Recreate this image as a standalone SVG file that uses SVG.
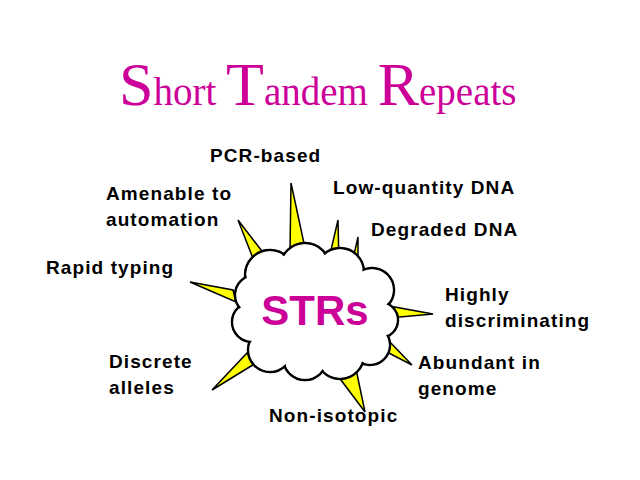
<svg xmlns="http://www.w3.org/2000/svg" width="640" height="480" viewBox="0 0 640 480">
<style>
.l{font-family:"Liberation Sans",Arial,sans-serif;font-weight:bold;font-size:19px;letter-spacing:1.1px;fill:#000}
.t{font-family:"Liberation Serif","Times New Roman",serif;fill:#cc0099}
.sp{fill:#ffff00;stroke:#000;stroke-width:1.5;stroke-linejoin:miter}
.c1{fill:#fff;stroke:#000;stroke-width:2.5}
.c2{fill:#fff}
</style>
<rect width="640" height="480" fill="#fff"/>
<text class="t" x="119" y="105"><tspan font-size="62">S</tspan><tspan font-size="39">hort </tspan><tspan font-size="62">T</tspan><tspan font-size="39">andem </tspan><tspan font-size="62">R</tspan><tspan font-size="39">epeats</tspan></text>
<g id="connectors">
<polygon class="sp" points="291,183 290,252 305,248"/>
<polygon class="sp" points="338,220 328,263 339,266"/>
<polygon class="sp" points="358,237 351,268 358,268"/>
<polygon class="sp" points="238,220 256,266 268,259"/>
<polygon class="sp" points="190,282 233,290 236,302"/>
<polygon class="sp" points="433,314 389,306 389,318"/>
<polygon class="sp" points="412,365 386,338 379,348"/>
<polygon class="sp" points="365,412 338,376 356,369"/>
<polygon class="sp" points="212,390 248,352 256,363"/>
</g>
<g id="cloud">
<g>
<circle class="c1" cx="270" cy="275" r="25"/><circle class="c1" cx="305" cy="268" r="25"/><circle class="c1" cx="340" cy="272" r="24"/><circle class="c1" cx="372" cy="290" r="22"/><circle class="c1" cx="380" cy="320" r="18"/><circle class="c1" cx="370" cy="345" r="20"/><circle class="c1" cx="340" cy="355" r="24"/><circle class="c1" cx="305" cy="358" r="22"/><circle class="c1" cx="270" cy="350" r="22"/><circle class="c1" cx="252" cy="322" r="20"/><circle class="c1" cx="255" cy="295" r="20"/>
</g>
<g>
<circle class="c2" cx="270" cy="275" r="23.5"/><circle class="c2" cx="305" cy="268" r="23.5"/><circle class="c2" cx="340" cy="272" r="22.5"/><circle class="c2" cx="372" cy="290" r="20.5"/><circle class="c2" cx="380" cy="320" r="16.5"/><circle class="c2" cx="370" cy="345" r="18.5"/><circle class="c2" cx="340" cy="355" r="22.5"/><circle class="c2" cx="305" cy="358" r="20.5"/><circle class="c2" cx="270" cy="350" r="20.5"/><circle class="c2" cx="252" cy="322" r="18.5"/><circle class="c2" cx="255" cy="295" r="18.5"/><ellipse class="c2" cx="312" cy="312" rx="60" ry="45"/>
</g>
<text x="315" y="325" text-anchor="middle" font-family="Liberation Sans,Arial,sans-serif" font-weight="bold" font-size="42" fill="#cc0099">STRs</text>
</g>
<g id="labels">
<text class="l" x="210" y="162">PCR-based</text>
<text class="l" x="333" y="194">Low-quantity DNA</text>
<text class="l" x="106" y="200">Amenable to</text>
<text class="l" x="106" y="226">automation</text>
<text class="l" x="371" y="236">Degraded DNA</text>
<text class="l" x="46" y="274">Rapid typing</text>
<text class="l" x="445" y="301">Highly</text>
<text class="l" x="445" y="327">discriminating</text>
<text class="l" x="109" y="368">Discrete</text>
<text class="l" x="109" y="394">alleles</text>
<text class="l" x="418" y="369">Abundant in</text>
<text class="l" x="418" y="395">genome</text>
<text class="l" x="269" y="422">Non-isotopic</text>
</g>
</svg>
